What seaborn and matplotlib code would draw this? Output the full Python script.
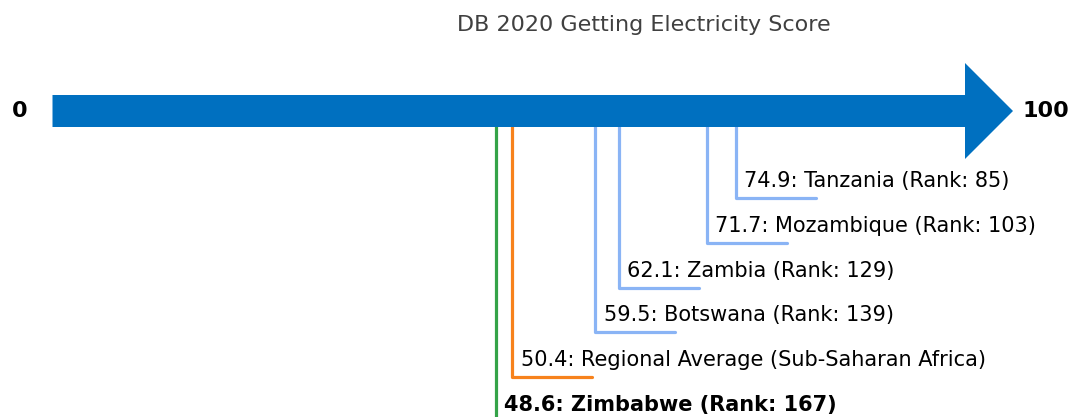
import matplotlib
matplotlib.use("Agg")
import matplotlib.pyplot as plt
import numpy as np
import pandas as pd
import seaborn as sns

# data
names = ["Tanzania", "Mozambique", "Zambia", "Botswana",
         "Regional Average (Sub-Saharan Africa)", "Zimbabwe"]
scores = [74.9, 71.7, 62.1, 59.5, 50.4, 48.6]
ranks = [85, 103, 129, 139, None, 167]
kinds = ["peer", "peer", "peer", "peer", "region", "focus"]
title = "DB 2020 Getting Electricity Score"
scale_min, scale_max = 0, 100

colors = {"peer": "#8AB4F5", "region": "#F7821C", "focus": "#34A348"}
arrow_color = "#0070C0"

sns.set_theme(style="white")
plt.rcParams["font.family"] = ["DejaVu Sans"]

W, H, DPI = 1072, 417, 100
fig = plt.figure(figsize=(W / DPI, H / DPI), dpi=DPI)
ax = fig.add_axes([0, 0, 1, 1])

# x in score units, y in pixels from top
px_per_unit = 9.125
x0_px = 52.5
ax.set_xlim(-x0_px / px_per_unit, (W - x0_px) / px_per_unit)
ax.set_ylim(H, 0)
ax.axis("off")

arrow_y = 111
shaft_half = 16
head_half = 48
head_len = 48 / px_per_unit
arrow_pts = np.array([
    [scale_min, arrow_y - shaft_half],
    [scale_max, arrow_y - shaft_half],
    [scale_max, arrow_y - head_half],
    [scale_max + head_len, arrow_y],
    [scale_max, arrow_y + head_half],
    [scale_max, arrow_y + shaft_half],
    [scale_min, arrow_y + shaft_half],
])
ax.fill(arrow_pts[:, 0], arrow_pts[:, 1], color=arrow_color, zorder=3, lw=0)

ax.text(scale_min - 3.55, arrow_y, str(scale_min), fontsize=16, fontweight="bold",
        ha="center", va="center", color="black")
ax.text(scale_max + head_len + 3.55, arrow_y, str(scale_max), fontsize=16,
        fontweight="bold", ha="center", va="center", color="black")

# connector paths
first_level = 198
step = 44.8
tick_len = 80 / px_per_unit
rows = []
for i, (n, s, k) in enumerate(zip(names, scores, kinds)):
    lvl = first_level + step * i
    for j, (xx, yy) in enumerate([(s, arrow_y), (s, lvl), (s + tick_len, lvl)]):
        rows.append({"name": n, "kind": k, "x": xx, "y": yy, "order": j})
paths = pd.DataFrame(rows)

sns.lineplot(data=paths, x="x", y="y", hue="kind", units="name", estimator=None,
             sort=False, palette=colors, linewidth=2.3, legend=False, ax=ax, zorder=2)
ax.set_xlabel("")
ax.set_ylabel("")
ax.set_xlim(-x0_px / px_per_unit, (W - x0_px) / px_per_unit)
ax.set_ylim(H, 0)

for i, (n, s, r, k) in enumerate(zip(names, scores, ranks, kinds)):
    lvl = first_level + step * i
    label = f"{s}: {n}" + (f" (Rank: {r})" if r is not None else "")
    ax.text(s + 0.9, lvl - 17, label, fontsize=15, ha="left", va="center",
            color="black", fontweight="bold" if k == "focus" else "normal")

fig.text(644 / W, 1 - 25 / H, title, fontsize=16, color="#404040",
         ha="center", va="center")

fig.savefig("out.png", dpi=DPI)
